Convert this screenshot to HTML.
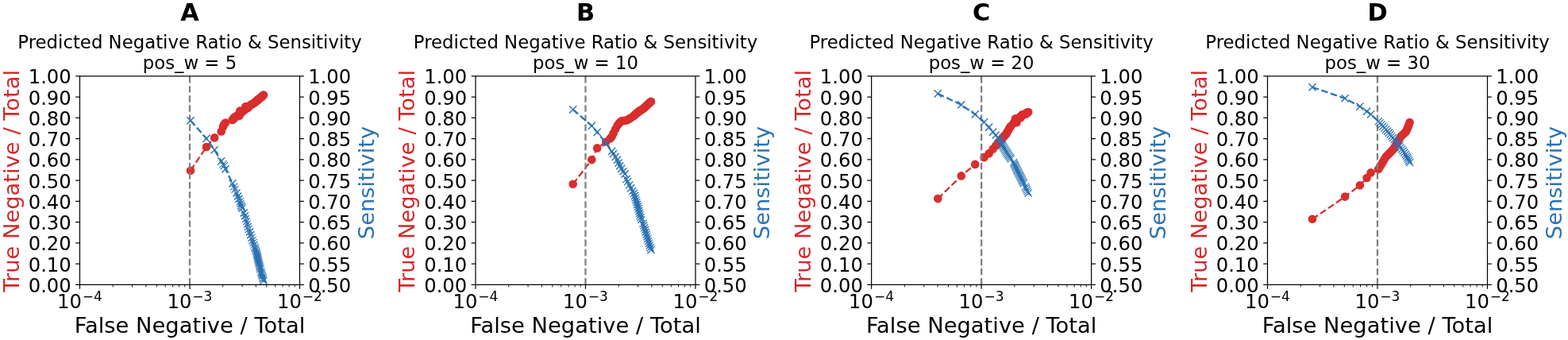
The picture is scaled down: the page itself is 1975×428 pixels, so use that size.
<!DOCTYPE html>
<html><head><meta charset="utf-8"><style>
html,body{margin:0;padding:0;background:#fff;}
svg{display:block;}
text{font-family:"DejaVu Sans","Liberation Sans",sans-serif;}
</style></head><body>
<svg width="1975" height="428" viewBox="0 0 1975 428">
<rect width="1975" height="428" fill="#fff"/>
<text x="239.00" y="25.5" font-size="30.4" font-weight="bold" text-anchor="middle">A</text>
<text x="239.00" y="61.0" font-size="22.8" text-anchor="middle">Predicted Negative Ratio &amp; Sensitivity</text>
<text x="239.00" y="86.6" font-size="22.8" text-anchor="middle">pos_w = 5</text>
<text x="239.00" y="419.4" font-size="27.35" text-anchor="middle">False Negative / Total</text>
<text transform="translate(23.90,227.82) rotate(-90)" font-size="27.35" text-anchor="middle" fill="#d62728">True Negative / Total</text>
<text transform="translate(470.90,230.03) rotate(-90)" font-size="27.35" text-anchor="middle" fill="#2a72b4">Sensitivity</text>
<line x1="95.18" y1="358.40" x2="100.50" y2="358.40" stroke="#000" stroke-width="1.22"/>
<text x="89.80" y="367.90" font-size="24.3" text-anchor="end">0.00</text>
<line x1="95.18" y1="332.14" x2="100.50" y2="332.14" stroke="#000" stroke-width="1.22"/>
<text x="89.80" y="341.64" font-size="24.3" text-anchor="end">0.10</text>
<line x1="95.18" y1="305.89" x2="100.50" y2="305.89" stroke="#000" stroke-width="1.22"/>
<text x="89.80" y="315.39" font-size="24.3" text-anchor="end">0.20</text>
<line x1="95.18" y1="279.63" x2="100.50" y2="279.63" stroke="#000" stroke-width="1.22"/>
<text x="89.80" y="289.13" font-size="24.3" text-anchor="end">0.30</text>
<line x1="95.18" y1="253.38" x2="100.50" y2="253.38" stroke="#000" stroke-width="1.22"/>
<text x="89.80" y="262.88" font-size="24.3" text-anchor="end">0.40</text>
<line x1="95.18" y1="227.12" x2="100.50" y2="227.12" stroke="#000" stroke-width="1.22"/>
<text x="89.80" y="236.62" font-size="24.3" text-anchor="end">0.50</text>
<line x1="95.18" y1="200.87" x2="100.50" y2="200.87" stroke="#000" stroke-width="1.22"/>
<text x="89.80" y="210.37" font-size="24.3" text-anchor="end">0.60</text>
<line x1="95.18" y1="174.61" x2="100.50" y2="174.61" stroke="#000" stroke-width="1.22"/>
<text x="89.80" y="184.11" font-size="24.3" text-anchor="end">0.70</text>
<line x1="95.18" y1="148.36" x2="100.50" y2="148.36" stroke="#000" stroke-width="1.22"/>
<text x="89.80" y="157.86" font-size="24.3" text-anchor="end">0.80</text>
<line x1="95.18" y1="122.11" x2="100.50" y2="122.11" stroke="#000" stroke-width="1.22"/>
<text x="89.80" y="131.61" font-size="24.3" text-anchor="end">0.90</text>
<line x1="95.18" y1="95.85" x2="100.50" y2="95.85" stroke="#000" stroke-width="1.22"/>
<text x="89.80" y="105.35" font-size="24.3" text-anchor="end">1.00</text>
<line x1="377.50" y1="358.40" x2="382.82" y2="358.40" stroke="#000" stroke-width="1.22"/>
<text x="388.20" y="367.90" font-size="24.3">0.50</text>
<line x1="377.50" y1="332.14" x2="382.82" y2="332.14" stroke="#000" stroke-width="1.22"/>
<text x="388.20" y="341.64" font-size="24.3">0.55</text>
<line x1="377.50" y1="305.89" x2="382.82" y2="305.89" stroke="#000" stroke-width="1.22"/>
<text x="388.20" y="315.39" font-size="24.3">0.60</text>
<line x1="377.50" y1="279.63" x2="382.82" y2="279.63" stroke="#000" stroke-width="1.22"/>
<text x="388.20" y="289.13" font-size="24.3">0.65</text>
<line x1="377.50" y1="253.38" x2="382.82" y2="253.38" stroke="#000" stroke-width="1.22"/>
<text x="388.20" y="262.88" font-size="24.3">0.70</text>
<line x1="377.50" y1="227.12" x2="382.82" y2="227.12" stroke="#000" stroke-width="1.22"/>
<text x="388.20" y="236.62" font-size="24.3">0.75</text>
<line x1="377.50" y1="200.87" x2="382.82" y2="200.87" stroke="#000" stroke-width="1.22"/>
<text x="388.20" y="210.37" font-size="24.3">0.80</text>
<line x1="377.50" y1="174.61" x2="382.82" y2="174.61" stroke="#000" stroke-width="1.22"/>
<text x="388.20" y="184.11" font-size="24.3">0.85</text>
<line x1="377.50" y1="148.36" x2="382.82" y2="148.36" stroke="#000" stroke-width="1.22"/>
<text x="388.20" y="157.86" font-size="24.3">0.90</text>
<line x1="377.50" y1="122.11" x2="382.82" y2="122.11" stroke="#000" stroke-width="1.22"/>
<text x="388.20" y="131.61" font-size="24.3">0.95</text>
<line x1="377.50" y1="95.85" x2="382.82" y2="95.85" stroke="#000" stroke-width="1.22"/>
<text x="388.20" y="105.35" font-size="24.3">1.00</text>
<line x1="142.19" y1="358.40" x2="142.19" y2="361.44" stroke="#000" stroke-width="0.91"/>
<line x1="166.58" y1="358.40" x2="166.58" y2="361.44" stroke="#000" stroke-width="0.91"/>
<line x1="183.89" y1="358.40" x2="183.89" y2="361.44" stroke="#000" stroke-width="0.91"/>
<line x1="197.31" y1="358.40" x2="197.31" y2="361.44" stroke="#000" stroke-width="0.91"/>
<line x1="208.27" y1="358.40" x2="208.27" y2="361.44" stroke="#000" stroke-width="0.91"/>
<line x1="217.55" y1="358.40" x2="217.55" y2="361.44" stroke="#000" stroke-width="0.91"/>
<line x1="225.58" y1="358.40" x2="225.58" y2="361.44" stroke="#000" stroke-width="0.91"/>
<line x1="232.66" y1="358.40" x2="232.66" y2="361.44" stroke="#000" stroke-width="0.91"/>
<line x1="280.69" y1="358.40" x2="280.69" y2="361.44" stroke="#000" stroke-width="0.91"/>
<line x1="305.08" y1="358.40" x2="305.08" y2="361.44" stroke="#000" stroke-width="0.91"/>
<line x1="322.39" y1="358.40" x2="322.39" y2="361.44" stroke="#000" stroke-width="0.91"/>
<line x1="335.81" y1="358.40" x2="335.81" y2="361.44" stroke="#000" stroke-width="0.91"/>
<line x1="346.77" y1="358.40" x2="346.77" y2="361.44" stroke="#000" stroke-width="0.91"/>
<line x1="356.05" y1="358.40" x2="356.05" y2="361.44" stroke="#000" stroke-width="0.91"/>
<line x1="364.08" y1="358.40" x2="364.08" y2="361.44" stroke="#000" stroke-width="0.91"/>
<line x1="371.16" y1="358.40" x2="371.16" y2="361.44" stroke="#000" stroke-width="0.91"/>
<line x1="100.50" y1="358.40" x2="100.50" y2="363.72" stroke="#000" stroke-width="1.22"/>
<text x="71.95" y="387.9" font-size="24.3">10</text>
<text x="103.85" y="378.7" font-size="17.01">−4</text>
<line x1="239.00" y1="358.40" x2="239.00" y2="363.72" stroke="#000" stroke-width="1.22"/>
<text x="210.45" y="387.9" font-size="24.3">10</text>
<text x="242.35" y="378.7" font-size="17.01">−3</text>
<line x1="377.50" y1="358.40" x2="377.50" y2="363.72" stroke="#000" stroke-width="1.22"/>
<text x="348.95" y="387.9" font-size="24.3">10</text>
<text x="380.85" y="378.7" font-size="17.01">−2</text>
<polyline points="240.00,214.70 260.00,185.00 270.10,173.40 278.70,165.50 281.00,159.50 282.20,156.50 284.00,154.50 293.00,150.50 294.68,149.10 296.00,148.00 297.95,146.29 299.65,144.81 301.00,143.74 302.17,142.85 302.97,142.25 303.73,141.66 304.41,141.15 305.07,140.64 307.14,138.90 308.51,137.75 309.54,136.89 310.48,136.12 311.37,135.41 312.28,134.68 313.17,133.96 314.37,133.00 315.64,132.13 316.91,131.39 318.04,130.74 318.98,130.19 319.93,129.64 320.84,128.91 321.47,128.40 322.10,127.88 322.73,127.36 323.30,126.90 323.69,126.57 324.08,126.25 324.48,125.93 324.87,125.61 325.27,125.28 325.73,124.92 326.19,124.55 326.64,124.19 327.10,123.82 327.56,123.45 328.01,123.09 328.77,122.49 329.31,122.06 329.84,121.62 330.38,121.12 330.92,120.58 331.46,120.04 332.00,119.50" fill="none" stroke="#da2d2d" stroke-width="2.28" stroke-dasharray="8.44 3.65"/>
<circle cx="240.00" cy="214.70" r="4.56" fill="#da2d2d" stroke="#da2d2d" stroke-width="1.52"/>
<circle cx="260.00" cy="185.00" r="4.56" fill="#da2d2d" stroke="#da2d2d" stroke-width="1.52"/>
<circle cx="270.10" cy="173.40" r="4.56" fill="#da2d2d" stroke="#da2d2d" stroke-width="1.52"/>
<circle cx="278.70" cy="165.50" r="4.56" fill="#da2d2d" stroke="#da2d2d" stroke-width="1.52"/>
<circle cx="281.00" cy="159.50" r="4.56" fill="#da2d2d" stroke="#da2d2d" stroke-width="1.52"/>
<circle cx="282.20" cy="156.50" r="4.56" fill="#da2d2d" stroke="#da2d2d" stroke-width="1.52"/>
<circle cx="284.00" cy="154.50" r="4.56" fill="#da2d2d" stroke="#da2d2d" stroke-width="1.52"/>
<circle cx="293.00" cy="150.50" r="4.56" fill="#da2d2d" stroke="#da2d2d" stroke-width="1.52"/>
<circle cx="294.68" cy="149.10" r="4.56" fill="#da2d2d" stroke="#da2d2d" stroke-width="1.52"/>
<circle cx="296.00" cy="148.00" r="4.56" fill="#da2d2d" stroke="#da2d2d" stroke-width="1.52"/>
<circle cx="297.95" cy="146.29" r="4.56" fill="#da2d2d" stroke="#da2d2d" stroke-width="1.52"/>
<circle cx="299.65" cy="144.81" r="4.56" fill="#da2d2d" stroke="#da2d2d" stroke-width="1.52"/>
<circle cx="301.00" cy="143.74" r="4.56" fill="#da2d2d" stroke="#da2d2d" stroke-width="1.52"/>
<circle cx="302.17" cy="142.85" r="4.56" fill="#da2d2d" stroke="#da2d2d" stroke-width="1.52"/>
<circle cx="302.97" cy="142.25" r="4.56" fill="#da2d2d" stroke="#da2d2d" stroke-width="1.52"/>
<circle cx="303.73" cy="141.66" r="4.56" fill="#da2d2d" stroke="#da2d2d" stroke-width="1.52"/>
<circle cx="304.41" cy="141.15" r="4.56" fill="#da2d2d" stroke="#da2d2d" stroke-width="1.52"/>
<circle cx="305.07" cy="140.64" r="4.56" fill="#da2d2d" stroke="#da2d2d" stroke-width="1.52"/>
<circle cx="307.14" cy="138.90" r="4.56" fill="#da2d2d" stroke="#da2d2d" stroke-width="1.52"/>
<circle cx="308.51" cy="137.75" r="4.56" fill="#da2d2d" stroke="#da2d2d" stroke-width="1.52"/>
<circle cx="309.54" cy="136.89" r="4.56" fill="#da2d2d" stroke="#da2d2d" stroke-width="1.52"/>
<circle cx="310.48" cy="136.12" r="4.56" fill="#da2d2d" stroke="#da2d2d" stroke-width="1.52"/>
<circle cx="311.37" cy="135.41" r="4.56" fill="#da2d2d" stroke="#da2d2d" stroke-width="1.52"/>
<circle cx="312.28" cy="134.68" r="4.56" fill="#da2d2d" stroke="#da2d2d" stroke-width="1.52"/>
<circle cx="313.17" cy="133.96" r="4.56" fill="#da2d2d" stroke="#da2d2d" stroke-width="1.52"/>
<circle cx="314.37" cy="133.00" r="4.56" fill="#da2d2d" stroke="#da2d2d" stroke-width="1.52"/>
<circle cx="315.64" cy="132.13" r="4.56" fill="#da2d2d" stroke="#da2d2d" stroke-width="1.52"/>
<circle cx="316.91" cy="131.39" r="4.56" fill="#da2d2d" stroke="#da2d2d" stroke-width="1.52"/>
<circle cx="318.04" cy="130.74" r="4.56" fill="#da2d2d" stroke="#da2d2d" stroke-width="1.52"/>
<circle cx="318.98" cy="130.19" r="4.56" fill="#da2d2d" stroke="#da2d2d" stroke-width="1.52"/>
<circle cx="319.93" cy="129.64" r="4.56" fill="#da2d2d" stroke="#da2d2d" stroke-width="1.52"/>
<circle cx="320.84" cy="128.91" r="4.56" fill="#da2d2d" stroke="#da2d2d" stroke-width="1.52"/>
<circle cx="321.47" cy="128.40" r="4.56" fill="#da2d2d" stroke="#da2d2d" stroke-width="1.52"/>
<circle cx="322.10" cy="127.88" r="4.56" fill="#da2d2d" stroke="#da2d2d" stroke-width="1.52"/>
<circle cx="322.73" cy="127.36" r="4.56" fill="#da2d2d" stroke="#da2d2d" stroke-width="1.52"/>
<circle cx="323.30" cy="126.90" r="4.56" fill="#da2d2d" stroke="#da2d2d" stroke-width="1.52"/>
<circle cx="323.69" cy="126.57" r="4.56" fill="#da2d2d" stroke="#da2d2d" stroke-width="1.52"/>
<circle cx="324.08" cy="126.25" r="4.56" fill="#da2d2d" stroke="#da2d2d" stroke-width="1.52"/>
<circle cx="324.48" cy="125.93" r="4.56" fill="#da2d2d" stroke="#da2d2d" stroke-width="1.52"/>
<circle cx="324.87" cy="125.61" r="4.56" fill="#da2d2d" stroke="#da2d2d" stroke-width="1.52"/>
<circle cx="325.27" cy="125.28" r="4.56" fill="#da2d2d" stroke="#da2d2d" stroke-width="1.52"/>
<circle cx="325.73" cy="124.92" r="4.56" fill="#da2d2d" stroke="#da2d2d" stroke-width="1.52"/>
<circle cx="326.19" cy="124.55" r="4.56" fill="#da2d2d" stroke="#da2d2d" stroke-width="1.52"/>
<circle cx="326.64" cy="124.19" r="4.56" fill="#da2d2d" stroke="#da2d2d" stroke-width="1.52"/>
<circle cx="327.10" cy="123.82" r="4.56" fill="#da2d2d" stroke="#da2d2d" stroke-width="1.52"/>
<circle cx="327.56" cy="123.45" r="4.56" fill="#da2d2d" stroke="#da2d2d" stroke-width="1.52"/>
<circle cx="328.01" cy="123.09" r="4.56" fill="#da2d2d" stroke="#da2d2d" stroke-width="1.52"/>
<circle cx="328.77" cy="122.49" r="4.56" fill="#da2d2d" stroke="#da2d2d" stroke-width="1.52"/>
<circle cx="329.31" cy="122.06" r="4.56" fill="#da2d2d" stroke="#da2d2d" stroke-width="1.52"/>
<circle cx="329.84" cy="121.62" r="4.56" fill="#da2d2d" stroke="#da2d2d" stroke-width="1.52"/>
<circle cx="330.38" cy="121.12" r="4.56" fill="#da2d2d" stroke="#da2d2d" stroke-width="1.52"/>
<circle cx="330.92" cy="120.58" r="4.56" fill="#da2d2d" stroke="#da2d2d" stroke-width="1.52"/>
<circle cx="331.46" cy="120.04" r="4.56" fill="#da2d2d" stroke="#da2d2d" stroke-width="1.52"/>
<circle cx="332.00" cy="119.50" r="4.56" fill="#da2d2d" stroke="#da2d2d" stroke-width="1.52"/>
<circle cx="292.70" cy="150.90" r="4.56" fill="#da2d2d" stroke="#da2d2d" stroke-width="1.52"/>
<circle cx="295.10" cy="147.60" r="4.56" fill="#da2d2d" stroke="#da2d2d" stroke-width="1.52"/>
<circle cx="301.50" cy="145.70" r="4.56" fill="#da2d2d" stroke="#da2d2d" stroke-width="1.52"/>
<circle cx="302.30" cy="139.60" r="4.56" fill="#da2d2d" stroke="#da2d2d" stroke-width="1.52"/>
<circle cx="307.80" cy="138.60" r="4.56" fill="#da2d2d" stroke="#da2d2d" stroke-width="1.52"/>
<circle cx="309.40" cy="134.10" r="4.56" fill="#da2d2d" stroke="#da2d2d" stroke-width="1.52"/>
<circle cx="312.60" cy="135.80" r="4.56" fill="#da2d2d" stroke="#da2d2d" stroke-width="1.52"/>
<line x1="239.00" y1="358.40" x2="239.00" y2="95.85" stroke="#808080" stroke-width="2.28" stroke-dasharray="8.44 3.65"/>
<polyline points="240.00,151.70 260.00,174.40 270.10,188.70 278.70,202.90 281.00,206.60 282.20,208.80 284.00,212.90 293.00,230.90 294.68,235.10 296.00,238.40 297.95,243.00 299.65,247.00 301.00,250.50 302.17,254.00 302.97,256.40 303.73,258.70 304.41,260.60 305.07,262.40 307.14,268.00 308.51,271.80 309.54,275.50 310.48,278.90 311.37,282.10 312.28,285.40 313.17,288.50 314.37,292.00 315.64,295.70 316.91,299.40 318.04,302.70 318.98,305.50 319.93,308.30 320.84,311.00 321.47,312.87 322.10,314.73 322.73,316.60 323.30,318.47 323.69,320.33 324.08,322.20 324.48,324.07 324.87,325.93 325.27,327.80 325.73,329.67 326.19,331.53 326.64,333.40 327.10,335.27 327.56,337.13 328.01,339.00 328.77,342.00 329.31,343.93 329.84,345.87 330.38,347.80 330.92,349.73 331.46,351.67 332.00,353.60" fill="none" stroke="#2a72b4" stroke-width="2.28" stroke-dasharray="8.44 3.65"/>
<path d="M235.44 147.14l9.12 9.12M235.44 156.26l9.12 -9.12M255.44 169.84l9.12 9.12M255.44 178.96l9.12 -9.12M265.54 184.14l9.12 9.12M265.54 193.26l9.12 -9.12M274.14 198.34l9.12 9.12M274.14 207.46l9.12 -9.12M279.44 208.34l9.12 9.12M279.44 217.46l9.12 -9.12M288.44 226.34l9.12 9.12M288.44 235.46l9.12 -9.12M293.39 238.44l9.12 9.12M293.39 247.56l9.12 -9.12M295.09 242.44l9.12 9.12M295.09 251.56l9.12 -9.12M296.44 245.94l9.12 9.12M296.44 255.06l9.12 -9.12M302.58 263.44l9.12 9.12M302.58 272.56l9.12 -9.12M303.95 267.24l9.12 9.12M303.95 276.36l9.12 -9.12M309.81 287.44l9.12 9.12M309.81 296.56l9.12 -9.12M311.08 291.14l9.12 9.12M311.08 300.26l9.12 -9.12" stroke="#2a72b4" stroke-width="1.45" fill="none"/>
<path d="M276.44 202.04l9.12 9.12M276.44 211.16l9.12 -9.12M277.64 204.24l9.12 9.12M277.64 213.36l9.12 -9.12M290.12 230.54l9.12 9.12M290.12 239.66l9.12 -9.12M291.44 233.84l9.12 9.12M291.44 242.96l9.12 -9.12M297.61 249.44l9.12 9.12M297.61 258.56l9.12 -9.12M298.41 251.84l9.12 9.12M298.41 260.96l9.12 -9.12M299.17 254.14l9.12 9.12M299.17 263.26l9.12 -9.12M299.85 256.04l9.12 9.12M299.85 265.16l9.12 -9.12M300.51 257.84l9.12 9.12M300.51 266.96l9.12 -9.12M304.98 270.94l9.12 9.12M304.98 280.06l9.12 -9.12M305.92 274.34l9.12 9.12M305.92 283.46l9.12 -9.12M306.81 277.54l9.12 9.12M306.81 286.66l9.12 -9.12M307.72 280.84l9.12 9.12M307.72 289.96l9.12 -9.12M308.61 283.94l9.12 9.12M308.61 293.06l9.12 -9.12M312.35 294.84l9.12 9.12M312.35 303.96l9.12 -9.12M313.48 298.14l9.12 9.12M313.48 307.26l9.12 -9.12M314.42 300.94l9.12 9.12M314.42 310.06l9.12 -9.12M315.37 303.74l9.12 9.12M315.37 312.86l9.12 -9.12M316.28 306.44l9.12 9.12M316.28 315.56l9.12 -9.12M316.91 308.31l9.12 9.12M316.91 317.43l9.12 -9.12M317.54 310.17l9.12 9.12M317.54 319.29l9.12 -9.12M318.17 312.04l9.12 9.12M318.17 321.16l9.12 -9.12M318.74 313.91l9.12 9.12M318.74 323.03l9.12 -9.12M319.13 315.77l9.12 9.12M319.13 324.89l9.12 -9.12M319.52 317.64l9.12 9.12M319.52 326.76l9.12 -9.12M319.92 319.51l9.12 9.12M319.92 328.63l9.12 -9.12M320.31 321.37l9.12 9.12M320.31 330.49l9.12 -9.12M320.71 323.24l9.12 9.12M320.71 332.36l9.12 -9.12M321.17 325.11l9.12 9.12M321.17 334.23l9.12 -9.12M321.63 326.97l9.12 9.12M321.63 336.09l9.12 -9.12M322.08 328.84l9.12 9.12M322.08 337.96l9.12 -9.12M322.54 330.71l9.12 9.12M322.54 339.83l9.12 -9.12M323.00 332.57l9.12 9.12M323.00 341.69l9.12 -9.12M323.45 334.44l9.12 9.12M323.45 343.56l9.12 -9.12M324.21 337.44l9.12 9.12M324.21 346.56l9.12 -9.12M324.75 339.37l9.12 9.12M324.75 348.49l9.12 -9.12M325.28 341.31l9.12 9.12M325.28 350.43l9.12 -9.12M325.82 343.24l9.12 9.12M325.82 352.36l9.12 -9.12M326.36 345.17l9.12 9.12M326.36 354.29l9.12 -9.12M326.90 347.11l9.12 9.12M326.90 356.23l9.12 -9.12M327.44 349.04l9.12 9.12M327.44 358.16l9.12 -9.12" stroke="#2a72b4" stroke-width="1.10" fill="none"/>
<rect x="100.50" y="95.85" width="277.00" height="262.55" fill="none" stroke="#000" stroke-width="1.22"/>
<text x="737.50" y="25.5" font-size="30.4" font-weight="bold" text-anchor="middle">B</text>
<text x="737.50" y="61.0" font-size="22.8" text-anchor="middle">Predicted Negative Ratio &amp; Sensitivity</text>
<text x="737.50" y="86.6" font-size="22.8" text-anchor="middle">pos_w = 10</text>
<text x="737.50" y="419.4" font-size="27.35" text-anchor="middle">False Negative / Total</text>
<text transform="translate(522.40,227.82) rotate(-90)" font-size="27.35" text-anchor="middle" fill="#d62728">True Negative / Total</text>
<text transform="translate(969.40,230.03) rotate(-90)" font-size="27.35" text-anchor="middle" fill="#2a72b4">Sensitivity</text>
<line x1="593.68" y1="358.40" x2="599.00" y2="358.40" stroke="#000" stroke-width="1.22"/>
<text x="588.30" y="367.90" font-size="24.3" text-anchor="end">0.00</text>
<line x1="593.68" y1="332.14" x2="599.00" y2="332.14" stroke="#000" stroke-width="1.22"/>
<text x="588.30" y="341.64" font-size="24.3" text-anchor="end">0.10</text>
<line x1="593.68" y1="305.89" x2="599.00" y2="305.89" stroke="#000" stroke-width="1.22"/>
<text x="588.30" y="315.39" font-size="24.3" text-anchor="end">0.20</text>
<line x1="593.68" y1="279.63" x2="599.00" y2="279.63" stroke="#000" stroke-width="1.22"/>
<text x="588.30" y="289.13" font-size="24.3" text-anchor="end">0.30</text>
<line x1="593.68" y1="253.38" x2="599.00" y2="253.38" stroke="#000" stroke-width="1.22"/>
<text x="588.30" y="262.88" font-size="24.3" text-anchor="end">0.40</text>
<line x1="593.68" y1="227.12" x2="599.00" y2="227.12" stroke="#000" stroke-width="1.22"/>
<text x="588.30" y="236.62" font-size="24.3" text-anchor="end">0.50</text>
<line x1="593.68" y1="200.87" x2="599.00" y2="200.87" stroke="#000" stroke-width="1.22"/>
<text x="588.30" y="210.37" font-size="24.3" text-anchor="end">0.60</text>
<line x1="593.68" y1="174.61" x2="599.00" y2="174.61" stroke="#000" stroke-width="1.22"/>
<text x="588.30" y="184.11" font-size="24.3" text-anchor="end">0.70</text>
<line x1="593.68" y1="148.36" x2="599.00" y2="148.36" stroke="#000" stroke-width="1.22"/>
<text x="588.30" y="157.86" font-size="24.3" text-anchor="end">0.80</text>
<line x1="593.68" y1="122.11" x2="599.00" y2="122.11" stroke="#000" stroke-width="1.22"/>
<text x="588.30" y="131.61" font-size="24.3" text-anchor="end">0.90</text>
<line x1="593.68" y1="95.85" x2="599.00" y2="95.85" stroke="#000" stroke-width="1.22"/>
<text x="588.30" y="105.35" font-size="24.3" text-anchor="end">1.00</text>
<line x1="876.00" y1="358.40" x2="881.32" y2="358.40" stroke="#000" stroke-width="1.22"/>
<text x="886.70" y="367.90" font-size="24.3">0.50</text>
<line x1="876.00" y1="332.14" x2="881.32" y2="332.14" stroke="#000" stroke-width="1.22"/>
<text x="886.70" y="341.64" font-size="24.3">0.55</text>
<line x1="876.00" y1="305.89" x2="881.32" y2="305.89" stroke="#000" stroke-width="1.22"/>
<text x="886.70" y="315.39" font-size="24.3">0.60</text>
<line x1="876.00" y1="279.63" x2="881.32" y2="279.63" stroke="#000" stroke-width="1.22"/>
<text x="886.70" y="289.13" font-size="24.3">0.65</text>
<line x1="876.00" y1="253.38" x2="881.32" y2="253.38" stroke="#000" stroke-width="1.22"/>
<text x="886.70" y="262.88" font-size="24.3">0.70</text>
<line x1="876.00" y1="227.12" x2="881.32" y2="227.12" stroke="#000" stroke-width="1.22"/>
<text x="886.70" y="236.62" font-size="24.3">0.75</text>
<line x1="876.00" y1="200.87" x2="881.32" y2="200.87" stroke="#000" stroke-width="1.22"/>
<text x="886.70" y="210.37" font-size="24.3">0.80</text>
<line x1="876.00" y1="174.61" x2="881.32" y2="174.61" stroke="#000" stroke-width="1.22"/>
<text x="886.70" y="184.11" font-size="24.3">0.85</text>
<line x1="876.00" y1="148.36" x2="881.32" y2="148.36" stroke="#000" stroke-width="1.22"/>
<text x="886.70" y="157.86" font-size="24.3">0.90</text>
<line x1="876.00" y1="122.11" x2="881.32" y2="122.11" stroke="#000" stroke-width="1.22"/>
<text x="886.70" y="131.61" font-size="24.3">0.95</text>
<line x1="876.00" y1="95.85" x2="881.32" y2="95.85" stroke="#000" stroke-width="1.22"/>
<text x="886.70" y="105.35" font-size="24.3">1.00</text>
<line x1="640.69" y1="358.40" x2="640.69" y2="361.44" stroke="#000" stroke-width="0.91"/>
<line x1="665.08" y1="358.40" x2="665.08" y2="361.44" stroke="#000" stroke-width="0.91"/>
<line x1="682.39" y1="358.40" x2="682.39" y2="361.44" stroke="#000" stroke-width="0.91"/>
<line x1="695.81" y1="358.40" x2="695.81" y2="361.44" stroke="#000" stroke-width="0.91"/>
<line x1="706.77" y1="358.40" x2="706.77" y2="361.44" stroke="#000" stroke-width="0.91"/>
<line x1="716.05" y1="358.40" x2="716.05" y2="361.44" stroke="#000" stroke-width="0.91"/>
<line x1="724.08" y1="358.40" x2="724.08" y2="361.44" stroke="#000" stroke-width="0.91"/>
<line x1="731.16" y1="358.40" x2="731.16" y2="361.44" stroke="#000" stroke-width="0.91"/>
<line x1="779.19" y1="358.40" x2="779.19" y2="361.44" stroke="#000" stroke-width="0.91"/>
<line x1="803.58" y1="358.40" x2="803.58" y2="361.44" stroke="#000" stroke-width="0.91"/>
<line x1="820.89" y1="358.40" x2="820.89" y2="361.44" stroke="#000" stroke-width="0.91"/>
<line x1="834.31" y1="358.40" x2="834.31" y2="361.44" stroke="#000" stroke-width="0.91"/>
<line x1="845.27" y1="358.40" x2="845.27" y2="361.44" stroke="#000" stroke-width="0.91"/>
<line x1="854.55" y1="358.40" x2="854.55" y2="361.44" stroke="#000" stroke-width="0.91"/>
<line x1="862.58" y1="358.40" x2="862.58" y2="361.44" stroke="#000" stroke-width="0.91"/>
<line x1="869.66" y1="358.40" x2="869.66" y2="361.44" stroke="#000" stroke-width="0.91"/>
<line x1="599.00" y1="358.40" x2="599.00" y2="363.72" stroke="#000" stroke-width="1.22"/>
<text x="570.45" y="387.9" font-size="24.3">10</text>
<text x="602.35" y="378.7" font-size="17.01">−4</text>
<line x1="737.50" y1="358.40" x2="737.50" y2="363.72" stroke="#000" stroke-width="1.22"/>
<text x="708.95" y="387.9" font-size="24.3">10</text>
<text x="740.85" y="378.7" font-size="17.01">−3</text>
<line x1="876.00" y1="358.40" x2="876.00" y2="363.72" stroke="#000" stroke-width="1.22"/>
<text x="847.45" y="387.9" font-size="24.3">10</text>
<text x="879.35" y="378.7" font-size="17.01">−2</text>
<polyline points="721.70,231.80 745.30,201.10 752.20,186.40 763.30,178.50 770.60,172.00 772.61,167.74 775.20,162.56 777.60,158.05 779.19,155.90 780.75,154.09 782.75,152.41 784.93,152.11 787.10,151.82 789.00,151.55 790.60,150.77 792.70,149.49 794.60,148.33 796.76,147.01 798.40,145.77 799.38,144.88 800.22,144.12 801.06,143.36 801.89,142.60 802.65,141.91 803.39,141.24 804.13,140.56 804.87,140.09 805.60,139.64 806.34,139.19 807.07,138.73 807.80,138.28 810.00,136.93 810.83,136.38 811.66,135.58 812.49,134.79 813.31,133.99 814.14,133.20 814.97,132.40 815.81,131.61 816.65,130.85 817.48,130.09 818.32,129.32 819.16,128.56 820.00,127.80" fill="none" stroke="#da2d2d" stroke-width="2.28" stroke-dasharray="8.44 3.65"/>
<circle cx="721.70" cy="231.80" r="4.56" fill="#da2d2d" stroke="#da2d2d" stroke-width="1.52"/>
<circle cx="745.30" cy="201.10" r="4.56" fill="#da2d2d" stroke="#da2d2d" stroke-width="1.52"/>
<circle cx="752.20" cy="186.40" r="4.56" fill="#da2d2d" stroke="#da2d2d" stroke-width="1.52"/>
<circle cx="763.30" cy="178.50" r="4.56" fill="#da2d2d" stroke="#da2d2d" stroke-width="1.52"/>
<circle cx="770.60" cy="172.00" r="4.56" fill="#da2d2d" stroke="#da2d2d" stroke-width="1.52"/>
<circle cx="772.61" cy="167.74" r="4.56" fill="#da2d2d" stroke="#da2d2d" stroke-width="1.52"/>
<circle cx="775.20" cy="162.56" r="4.56" fill="#da2d2d" stroke="#da2d2d" stroke-width="1.52"/>
<circle cx="777.60" cy="158.05" r="4.56" fill="#da2d2d" stroke="#da2d2d" stroke-width="1.52"/>
<circle cx="779.19" cy="155.90" r="4.56" fill="#da2d2d" stroke="#da2d2d" stroke-width="1.52"/>
<circle cx="780.75" cy="154.09" r="4.56" fill="#da2d2d" stroke="#da2d2d" stroke-width="1.52"/>
<circle cx="782.75" cy="152.41" r="4.56" fill="#da2d2d" stroke="#da2d2d" stroke-width="1.52"/>
<circle cx="784.93" cy="152.11" r="4.56" fill="#da2d2d" stroke="#da2d2d" stroke-width="1.52"/>
<circle cx="787.10" cy="151.82" r="4.56" fill="#da2d2d" stroke="#da2d2d" stroke-width="1.52"/>
<circle cx="789.00" cy="151.55" r="4.56" fill="#da2d2d" stroke="#da2d2d" stroke-width="1.52"/>
<circle cx="790.60" cy="150.77" r="4.56" fill="#da2d2d" stroke="#da2d2d" stroke-width="1.52"/>
<circle cx="792.70" cy="149.49" r="4.56" fill="#da2d2d" stroke="#da2d2d" stroke-width="1.52"/>
<circle cx="794.60" cy="148.33" r="4.56" fill="#da2d2d" stroke="#da2d2d" stroke-width="1.52"/>
<circle cx="796.76" cy="147.01" r="4.56" fill="#da2d2d" stroke="#da2d2d" stroke-width="1.52"/>
<circle cx="798.40" cy="145.77" r="4.56" fill="#da2d2d" stroke="#da2d2d" stroke-width="1.52"/>
<circle cx="799.38" cy="144.88" r="4.56" fill="#da2d2d" stroke="#da2d2d" stroke-width="1.52"/>
<circle cx="800.22" cy="144.12" r="4.56" fill="#da2d2d" stroke="#da2d2d" stroke-width="1.52"/>
<circle cx="801.06" cy="143.36" r="4.56" fill="#da2d2d" stroke="#da2d2d" stroke-width="1.52"/>
<circle cx="801.89" cy="142.60" r="4.56" fill="#da2d2d" stroke="#da2d2d" stroke-width="1.52"/>
<circle cx="802.65" cy="141.91" r="4.56" fill="#da2d2d" stroke="#da2d2d" stroke-width="1.52"/>
<circle cx="803.39" cy="141.24" r="4.56" fill="#da2d2d" stroke="#da2d2d" stroke-width="1.52"/>
<circle cx="804.13" cy="140.56" r="4.56" fill="#da2d2d" stroke="#da2d2d" stroke-width="1.52"/>
<circle cx="804.87" cy="140.09" r="4.56" fill="#da2d2d" stroke="#da2d2d" stroke-width="1.52"/>
<circle cx="805.60" cy="139.64" r="4.56" fill="#da2d2d" stroke="#da2d2d" stroke-width="1.52"/>
<circle cx="806.34" cy="139.19" r="4.56" fill="#da2d2d" stroke="#da2d2d" stroke-width="1.52"/>
<circle cx="807.07" cy="138.73" r="4.56" fill="#da2d2d" stroke="#da2d2d" stroke-width="1.52"/>
<circle cx="807.80" cy="138.28" r="4.56" fill="#da2d2d" stroke="#da2d2d" stroke-width="1.52"/>
<circle cx="810.00" cy="136.93" r="4.56" fill="#da2d2d" stroke="#da2d2d" stroke-width="1.52"/>
<circle cx="810.83" cy="136.38" r="4.56" fill="#da2d2d" stroke="#da2d2d" stroke-width="1.52"/>
<circle cx="811.66" cy="135.58" r="4.56" fill="#da2d2d" stroke="#da2d2d" stroke-width="1.52"/>
<circle cx="812.49" cy="134.79" r="4.56" fill="#da2d2d" stroke="#da2d2d" stroke-width="1.52"/>
<circle cx="813.31" cy="133.99" r="4.56" fill="#da2d2d" stroke="#da2d2d" stroke-width="1.52"/>
<circle cx="814.14" cy="133.20" r="4.56" fill="#da2d2d" stroke="#da2d2d" stroke-width="1.52"/>
<circle cx="814.97" cy="132.40" r="4.56" fill="#da2d2d" stroke="#da2d2d" stroke-width="1.52"/>
<circle cx="815.81" cy="131.61" r="4.56" fill="#da2d2d" stroke="#da2d2d" stroke-width="1.52"/>
<circle cx="816.65" cy="130.85" r="4.56" fill="#da2d2d" stroke="#da2d2d" stroke-width="1.52"/>
<circle cx="817.48" cy="130.09" r="4.56" fill="#da2d2d" stroke="#da2d2d" stroke-width="1.52"/>
<circle cx="818.32" cy="129.32" r="4.56" fill="#da2d2d" stroke="#da2d2d" stroke-width="1.52"/>
<circle cx="819.16" cy="128.56" r="4.56" fill="#da2d2d" stroke="#da2d2d" stroke-width="1.52"/>
<circle cx="820.00" cy="127.80" r="4.56" fill="#da2d2d" stroke="#da2d2d" stroke-width="1.52"/>
<circle cx="768.50" cy="174.50" r="4.56" fill="#da2d2d" stroke="#da2d2d" stroke-width="1.52"/>
<line x1="737.50" y1="358.40" x2="737.50" y2="95.85" stroke="#808080" stroke-width="2.28" stroke-dasharray="8.44 3.65"/>
<polyline points="721.70,137.90 745.30,158.40 752.20,166.40 763.30,180.30 770.60,190.40 772.61,193.50 775.20,197.50 777.60,201.20 779.19,205.00 780.75,208.70 782.75,212.40 784.93,215.70 787.10,219.00 789.00,225.60 790.60,228.80 792.70,233.00 794.60,236.80 796.76,240.50 798.40,243.30 799.38,246.50 800.22,249.22 801.06,251.94 801.89,254.65 802.65,257.37 803.39,260.09 804.13,262.81 804.87,265.53 805.60,268.25 806.34,270.96 807.07,273.68 807.80,276.40 810.00,281.30 810.83,284.07 811.66,286.83 812.49,289.60 813.31,292.37 814.14,295.13 814.97,297.90 815.81,300.67 816.65,303.43 817.48,306.20 818.32,308.97 819.16,311.73 820.00,314.50" fill="none" stroke="#2a72b4" stroke-width="2.28" stroke-dasharray="8.44 3.65"/>
<path d="M717.14 133.34l9.12 9.12M717.14 142.46l9.12 -9.12M740.74 153.84l9.12 9.12M740.74 162.96l9.12 -9.12M747.64 161.84l9.12 9.12M747.64 170.96l9.12 -9.12M758.74 175.74l9.12 9.12M758.74 184.86l9.12 -9.12M766.04 185.84l9.12 9.12M766.04 194.96l9.12 -9.12M768.05 188.94l9.12 9.12M768.05 198.06l9.12 -9.12M770.64 192.94l9.12 9.12M770.64 202.06l9.12 -9.12M773.04 196.64l9.12 9.12M773.04 205.76l9.12 -9.12M774.63 200.44l9.12 9.12M774.63 209.56l9.12 -9.12M776.19 204.14l9.12 9.12M776.19 213.26l9.12 -9.12M778.19 207.84l9.12 9.12M778.19 216.96l9.12 -9.12M780.37 211.14l9.12 9.12M780.37 220.26l9.12 -9.12M782.54 214.44l9.12 9.12M782.54 223.56l9.12 -9.12M788.14 228.44l9.12 9.12M788.14 237.56l9.12 -9.12M790.04 232.24l9.12 9.12M790.04 241.36l9.12 -9.12" stroke="#2a72b4" stroke-width="1.45" fill="none"/>
<path d="M784.44 221.04l9.12 9.12M784.44 230.16l9.12 -9.12M786.04 224.24l9.12 9.12M786.04 233.36l9.12 -9.12M792.20 235.94l9.12 9.12M792.20 245.06l9.12 -9.12M793.84 238.74l9.12 9.12M793.84 247.86l9.12 -9.12M794.82 241.94l9.12 9.12M794.82 251.06l9.12 -9.12M795.66 244.66l9.12 9.12M795.66 253.78l9.12 -9.12M796.50 247.38l9.12 9.12M796.50 256.50l9.12 -9.12M797.33 250.09l9.12 9.12M797.33 259.21l9.12 -9.12M798.09 252.81l9.12 9.12M798.09 261.93l9.12 -9.12M798.83 255.53l9.12 9.12M798.83 264.65l9.12 -9.12M799.57 258.25l9.12 9.12M799.57 267.37l9.12 -9.12M800.31 260.97l9.12 9.12M800.31 270.09l9.12 -9.12M801.04 263.69l9.12 9.12M801.04 272.81l9.12 -9.12M801.78 266.40l9.12 9.12M801.78 275.52l9.12 -9.12M802.51 269.12l9.12 9.12M802.51 278.24l9.12 -9.12M803.24 271.84l9.12 9.12M803.24 280.96l9.12 -9.12M805.44 276.74l9.12 9.12M805.44 285.86l9.12 -9.12M806.27 279.51l9.12 9.12M806.27 288.63l9.12 -9.12M807.10 282.27l9.12 9.12M807.10 291.39l9.12 -9.12M807.93 285.04l9.12 9.12M807.93 294.16l9.12 -9.12M808.75 287.81l9.12 9.12M808.75 296.93l9.12 -9.12M809.58 290.57l9.12 9.12M809.58 299.69l9.12 -9.12M810.41 293.34l9.12 9.12M810.41 302.46l9.12 -9.12M811.25 296.11l9.12 9.12M811.25 305.23l9.12 -9.12M812.09 298.87l9.12 9.12M812.09 307.99l9.12 -9.12M812.92 301.64l9.12 9.12M812.92 310.76l9.12 -9.12M813.76 304.41l9.12 9.12M813.76 313.53l9.12 -9.12M814.60 307.17l9.12 9.12M814.60 316.29l9.12 -9.12M815.44 309.94l9.12 9.12M815.44 319.06l9.12 -9.12" stroke="#2a72b4" stroke-width="1.30" fill="none"/>
<rect x="599.00" y="95.85" width="277.00" height="262.55" fill="none" stroke="#000" stroke-width="1.22"/>
<text x="1236.15" y="25.5" font-size="30.4" font-weight="bold" text-anchor="middle">C</text>
<text x="1236.15" y="61.0" font-size="22.8" text-anchor="middle">Predicted Negative Ratio &amp; Sensitivity</text>
<text x="1236.15" y="86.6" font-size="22.8" text-anchor="middle">pos_w = 20</text>
<text x="1236.15" y="419.4" font-size="27.35" text-anchor="middle">False Negative / Total</text>
<text transform="translate(1021.05,227.82) rotate(-90)" font-size="27.35" text-anchor="middle" fill="#d62728">True Negative / Total</text>
<text transform="translate(1468.05,230.03) rotate(-90)" font-size="27.35" text-anchor="middle" fill="#2a72b4">Sensitivity</text>
<line x1="1092.33" y1="358.40" x2="1097.65" y2="358.40" stroke="#000" stroke-width="1.22"/>
<text x="1086.95" y="367.90" font-size="24.3" text-anchor="end">0.00</text>
<line x1="1092.33" y1="332.14" x2="1097.65" y2="332.14" stroke="#000" stroke-width="1.22"/>
<text x="1086.95" y="341.64" font-size="24.3" text-anchor="end">0.10</text>
<line x1="1092.33" y1="305.89" x2="1097.65" y2="305.89" stroke="#000" stroke-width="1.22"/>
<text x="1086.95" y="315.39" font-size="24.3" text-anchor="end">0.20</text>
<line x1="1092.33" y1="279.63" x2="1097.65" y2="279.63" stroke="#000" stroke-width="1.22"/>
<text x="1086.95" y="289.13" font-size="24.3" text-anchor="end">0.30</text>
<line x1="1092.33" y1="253.38" x2="1097.65" y2="253.38" stroke="#000" stroke-width="1.22"/>
<text x="1086.95" y="262.88" font-size="24.3" text-anchor="end">0.40</text>
<line x1="1092.33" y1="227.12" x2="1097.65" y2="227.12" stroke="#000" stroke-width="1.22"/>
<text x="1086.95" y="236.62" font-size="24.3" text-anchor="end">0.50</text>
<line x1="1092.33" y1="200.87" x2="1097.65" y2="200.87" stroke="#000" stroke-width="1.22"/>
<text x="1086.95" y="210.37" font-size="24.3" text-anchor="end">0.60</text>
<line x1="1092.33" y1="174.61" x2="1097.65" y2="174.61" stroke="#000" stroke-width="1.22"/>
<text x="1086.95" y="184.11" font-size="24.3" text-anchor="end">0.70</text>
<line x1="1092.33" y1="148.36" x2="1097.65" y2="148.36" stroke="#000" stroke-width="1.22"/>
<text x="1086.95" y="157.86" font-size="24.3" text-anchor="end">0.80</text>
<line x1="1092.33" y1="122.11" x2="1097.65" y2="122.11" stroke="#000" stroke-width="1.22"/>
<text x="1086.95" y="131.61" font-size="24.3" text-anchor="end">0.90</text>
<line x1="1092.33" y1="95.85" x2="1097.65" y2="95.85" stroke="#000" stroke-width="1.22"/>
<text x="1086.95" y="105.35" font-size="24.3" text-anchor="end">1.00</text>
<line x1="1374.65" y1="358.40" x2="1379.97" y2="358.40" stroke="#000" stroke-width="1.22"/>
<text x="1385.35" y="367.90" font-size="24.3">0.50</text>
<line x1="1374.65" y1="332.14" x2="1379.97" y2="332.14" stroke="#000" stroke-width="1.22"/>
<text x="1385.35" y="341.64" font-size="24.3">0.55</text>
<line x1="1374.65" y1="305.89" x2="1379.97" y2="305.89" stroke="#000" stroke-width="1.22"/>
<text x="1385.35" y="315.39" font-size="24.3">0.60</text>
<line x1="1374.65" y1="279.63" x2="1379.97" y2="279.63" stroke="#000" stroke-width="1.22"/>
<text x="1385.35" y="289.13" font-size="24.3">0.65</text>
<line x1="1374.65" y1="253.38" x2="1379.97" y2="253.38" stroke="#000" stroke-width="1.22"/>
<text x="1385.35" y="262.88" font-size="24.3">0.70</text>
<line x1="1374.65" y1="227.12" x2="1379.97" y2="227.12" stroke="#000" stroke-width="1.22"/>
<text x="1385.35" y="236.62" font-size="24.3">0.75</text>
<line x1="1374.65" y1="200.87" x2="1379.97" y2="200.87" stroke="#000" stroke-width="1.22"/>
<text x="1385.35" y="210.37" font-size="24.3">0.80</text>
<line x1="1374.65" y1="174.61" x2="1379.97" y2="174.61" stroke="#000" stroke-width="1.22"/>
<text x="1385.35" y="184.11" font-size="24.3">0.85</text>
<line x1="1374.65" y1="148.36" x2="1379.97" y2="148.36" stroke="#000" stroke-width="1.22"/>
<text x="1385.35" y="157.86" font-size="24.3">0.90</text>
<line x1="1374.65" y1="122.11" x2="1379.97" y2="122.11" stroke="#000" stroke-width="1.22"/>
<text x="1385.35" y="131.61" font-size="24.3">0.95</text>
<line x1="1374.65" y1="95.85" x2="1379.97" y2="95.85" stroke="#000" stroke-width="1.22"/>
<text x="1385.35" y="105.35" font-size="24.3">1.00</text>
<line x1="1139.34" y1="358.40" x2="1139.34" y2="361.44" stroke="#000" stroke-width="0.91"/>
<line x1="1163.73" y1="358.40" x2="1163.73" y2="361.44" stroke="#000" stroke-width="0.91"/>
<line x1="1181.04" y1="358.40" x2="1181.04" y2="361.44" stroke="#000" stroke-width="0.91"/>
<line x1="1194.46" y1="358.40" x2="1194.46" y2="361.44" stroke="#000" stroke-width="0.91"/>
<line x1="1205.42" y1="358.40" x2="1205.42" y2="361.44" stroke="#000" stroke-width="0.91"/>
<line x1="1214.70" y1="358.40" x2="1214.70" y2="361.44" stroke="#000" stroke-width="0.91"/>
<line x1="1222.73" y1="358.40" x2="1222.73" y2="361.44" stroke="#000" stroke-width="0.91"/>
<line x1="1229.81" y1="358.40" x2="1229.81" y2="361.44" stroke="#000" stroke-width="0.91"/>
<line x1="1277.84" y1="358.40" x2="1277.84" y2="361.44" stroke="#000" stroke-width="0.91"/>
<line x1="1302.23" y1="358.40" x2="1302.23" y2="361.44" stroke="#000" stroke-width="0.91"/>
<line x1="1319.54" y1="358.40" x2="1319.54" y2="361.44" stroke="#000" stroke-width="0.91"/>
<line x1="1332.96" y1="358.40" x2="1332.96" y2="361.44" stroke="#000" stroke-width="0.91"/>
<line x1="1343.92" y1="358.40" x2="1343.92" y2="361.44" stroke="#000" stroke-width="0.91"/>
<line x1="1353.20" y1="358.40" x2="1353.20" y2="361.44" stroke="#000" stroke-width="0.91"/>
<line x1="1361.23" y1="358.40" x2="1361.23" y2="361.44" stroke="#000" stroke-width="0.91"/>
<line x1="1368.31" y1="358.40" x2="1368.31" y2="361.44" stroke="#000" stroke-width="0.91"/>
<line x1="1097.65" y1="358.40" x2="1097.65" y2="363.72" stroke="#000" stroke-width="1.22"/>
<text x="1069.10" y="387.9" font-size="24.3">10</text>
<text x="1101.00" y="378.7" font-size="17.01">−4</text>
<line x1="1236.15" y1="358.40" x2="1236.15" y2="363.72" stroke="#000" stroke-width="1.22"/>
<text x="1207.60" y="387.9" font-size="24.3">10</text>
<text x="1239.50" y="378.7" font-size="17.01">−3</text>
<line x1="1374.65" y1="358.40" x2="1374.65" y2="363.72" stroke="#000" stroke-width="1.22"/>
<text x="1346.10" y="387.9" font-size="24.3">10</text>
<text x="1378.00" y="378.7" font-size="17.01">−2</text>
<polyline points="1181.30,250.10 1210.80,221.40 1228.20,206.90 1239.60,198.10 1245.70,193.16 1250.59,187.63 1254.17,183.58 1256.82,180.55 1258.36,178.79 1259.71,177.25 1261.64,175.04 1262.38,174.20 1263.12,173.35 1264.07,172.26 1265.06,171.13 1266.05,170.00 1267.03,168.88 1268.02,167.61 1269.01,165.86 1270.02,164.05 1271.12,162.09 1272.22,160.14 1273.32,158.83 1276.70,154.95 1277.45,154.08 1278.21,153.22 1278.96,152.35 1279.71,151.49 1280.46,150.88 1281.22,150.27 1282.05,149.60 1282.88,148.93 1283.70,148.25 1284.53,147.58 1285.36,146.91 1286.19,146.24 1287.02,145.57 1287.84,145.10 1288.67,144.65 1289.50,144.20 1291.46,143.13 1292.39,142.63 1293.33,142.12 1294.26,141.61 1295.20,141.10" fill="none" stroke="#da2d2d" stroke-width="2.28" stroke-dasharray="8.44 3.65"/>
<circle cx="1181.30" cy="250.10" r="4.56" fill="#da2d2d" stroke="#da2d2d" stroke-width="1.52"/>
<circle cx="1210.80" cy="221.40" r="4.56" fill="#da2d2d" stroke="#da2d2d" stroke-width="1.52"/>
<circle cx="1228.20" cy="206.90" r="4.56" fill="#da2d2d" stroke="#da2d2d" stroke-width="1.52"/>
<circle cx="1239.60" cy="198.10" r="4.56" fill="#da2d2d" stroke="#da2d2d" stroke-width="1.52"/>
<circle cx="1245.70" cy="193.16" r="4.56" fill="#da2d2d" stroke="#da2d2d" stroke-width="1.52"/>
<circle cx="1250.59" cy="187.63" r="4.56" fill="#da2d2d" stroke="#da2d2d" stroke-width="1.52"/>
<circle cx="1254.17" cy="183.58" r="4.56" fill="#da2d2d" stroke="#da2d2d" stroke-width="1.52"/>
<circle cx="1256.82" cy="180.55" r="4.56" fill="#da2d2d" stroke="#da2d2d" stroke-width="1.52"/>
<circle cx="1258.36" cy="178.79" r="4.56" fill="#da2d2d" stroke="#da2d2d" stroke-width="1.52"/>
<circle cx="1259.71" cy="177.25" r="4.56" fill="#da2d2d" stroke="#da2d2d" stroke-width="1.52"/>
<circle cx="1261.64" cy="175.04" r="4.56" fill="#da2d2d" stroke="#da2d2d" stroke-width="1.52"/>
<circle cx="1262.38" cy="174.20" r="4.56" fill="#da2d2d" stroke="#da2d2d" stroke-width="1.52"/>
<circle cx="1263.12" cy="173.35" r="4.56" fill="#da2d2d" stroke="#da2d2d" stroke-width="1.52"/>
<circle cx="1264.07" cy="172.26" r="4.56" fill="#da2d2d" stroke="#da2d2d" stroke-width="1.52"/>
<circle cx="1265.06" cy="171.13" r="4.56" fill="#da2d2d" stroke="#da2d2d" stroke-width="1.52"/>
<circle cx="1266.05" cy="170.00" r="4.56" fill="#da2d2d" stroke="#da2d2d" stroke-width="1.52"/>
<circle cx="1267.03" cy="168.88" r="4.56" fill="#da2d2d" stroke="#da2d2d" stroke-width="1.52"/>
<circle cx="1268.02" cy="167.61" r="4.56" fill="#da2d2d" stroke="#da2d2d" stroke-width="1.52"/>
<circle cx="1269.01" cy="165.86" r="4.56" fill="#da2d2d" stroke="#da2d2d" stroke-width="1.52"/>
<circle cx="1270.02" cy="164.05" r="4.56" fill="#da2d2d" stroke="#da2d2d" stroke-width="1.52"/>
<circle cx="1271.12" cy="162.09" r="4.56" fill="#da2d2d" stroke="#da2d2d" stroke-width="1.52"/>
<circle cx="1272.22" cy="160.14" r="4.56" fill="#da2d2d" stroke="#da2d2d" stroke-width="1.52"/>
<circle cx="1273.32" cy="158.83" r="4.56" fill="#da2d2d" stroke="#da2d2d" stroke-width="1.52"/>
<circle cx="1276.70" cy="154.95" r="4.56" fill="#da2d2d" stroke="#da2d2d" stroke-width="1.52"/>
<circle cx="1277.45" cy="154.08" r="4.56" fill="#da2d2d" stroke="#da2d2d" stroke-width="1.52"/>
<circle cx="1278.21" cy="153.22" r="4.56" fill="#da2d2d" stroke="#da2d2d" stroke-width="1.52"/>
<circle cx="1278.96" cy="152.35" r="4.56" fill="#da2d2d" stroke="#da2d2d" stroke-width="1.52"/>
<circle cx="1279.71" cy="151.49" r="4.56" fill="#da2d2d" stroke="#da2d2d" stroke-width="1.52"/>
<circle cx="1280.46" cy="150.88" r="4.56" fill="#da2d2d" stroke="#da2d2d" stroke-width="1.52"/>
<circle cx="1281.22" cy="150.27" r="4.56" fill="#da2d2d" stroke="#da2d2d" stroke-width="1.52"/>
<circle cx="1282.05" cy="149.60" r="4.56" fill="#da2d2d" stroke="#da2d2d" stroke-width="1.52"/>
<circle cx="1282.88" cy="148.93" r="4.56" fill="#da2d2d" stroke="#da2d2d" stroke-width="1.52"/>
<circle cx="1283.70" cy="148.25" r="4.56" fill="#da2d2d" stroke="#da2d2d" stroke-width="1.52"/>
<circle cx="1284.53" cy="147.58" r="4.56" fill="#da2d2d" stroke="#da2d2d" stroke-width="1.52"/>
<circle cx="1285.36" cy="146.91" r="4.56" fill="#da2d2d" stroke="#da2d2d" stroke-width="1.52"/>
<circle cx="1286.19" cy="146.24" r="4.56" fill="#da2d2d" stroke="#da2d2d" stroke-width="1.52"/>
<circle cx="1287.02" cy="145.57" r="4.56" fill="#da2d2d" stroke="#da2d2d" stroke-width="1.52"/>
<circle cx="1287.84" cy="145.10" r="4.56" fill="#da2d2d" stroke="#da2d2d" stroke-width="1.52"/>
<circle cx="1288.67" cy="144.65" r="4.56" fill="#da2d2d" stroke="#da2d2d" stroke-width="1.52"/>
<circle cx="1289.50" cy="144.20" r="4.56" fill="#da2d2d" stroke="#da2d2d" stroke-width="1.52"/>
<circle cx="1291.46" cy="143.13" r="4.56" fill="#da2d2d" stroke="#da2d2d" stroke-width="1.52"/>
<circle cx="1292.39" cy="142.63" r="4.56" fill="#da2d2d" stroke="#da2d2d" stroke-width="1.52"/>
<circle cx="1293.33" cy="142.12" r="4.56" fill="#da2d2d" stroke="#da2d2d" stroke-width="1.52"/>
<circle cx="1294.26" cy="141.61" r="4.56" fill="#da2d2d" stroke="#da2d2d" stroke-width="1.52"/>
<circle cx="1295.20" cy="141.10" r="4.56" fill="#da2d2d" stroke="#da2d2d" stroke-width="1.52"/>
<circle cx="1279.00" cy="149.20" r="4.56" fill="#da2d2d" stroke="#da2d2d" stroke-width="1.52"/>
<circle cx="1287.60" cy="144.30" r="4.56" fill="#da2d2d" stroke="#da2d2d" stroke-width="1.52"/>
<circle cx="1280.60" cy="154.30" r="4.56" fill="#da2d2d" stroke="#da2d2d" stroke-width="1.52"/>
<circle cx="1285.50" cy="148.30" r="4.56" fill="#da2d2d" stroke="#da2d2d" stroke-width="1.52"/>
<circle cx="1292.10" cy="143.80" r="4.56" fill="#da2d2d" stroke="#da2d2d" stroke-width="1.52"/>
<line x1="1236.15" y1="358.40" x2="1236.15" y2="95.85" stroke="#808080" stroke-width="2.28" stroke-dasharray="8.44 3.65"/>
<polyline points="1181.30,117.90 1210.80,131.90 1228.20,143.90 1239.60,153.80 1245.70,160.10 1250.59,166.20 1254.17,170.00 1256.82,173.20 1258.36,175.10 1259.71,177.00 1261.64,180.70 1262.38,182.31 1263.12,183.92 1264.07,185.52 1265.06,187.13 1266.05,188.74 1267.03,190.35 1268.02,191.96 1269.01,193.57 1270.02,195.18 1271.12,196.78 1272.22,198.39 1273.32,200.00 1276.70,204.50 1277.45,206.16 1278.21,207.81 1278.96,209.47 1279.71,211.13 1280.46,212.78 1281.22,214.44 1282.05,216.09 1282.88,217.75 1283.70,219.41 1284.53,221.06 1285.36,222.72 1286.19,224.38 1287.02,226.03 1287.84,227.69 1288.67,229.34 1289.50,231.00 1291.46,235.00 1292.39,237.05 1293.33,239.10 1294.26,241.15 1295.20,243.20" fill="none" stroke="#2a72b4" stroke-width="2.28" stroke-dasharray="8.44 3.65"/>
<path d="M1176.74 113.34l9.12 9.12M1176.74 122.46l9.12 -9.12M1206.24 127.34l9.12 9.12M1206.24 136.46l9.12 -9.12M1223.64 139.34l9.12 9.12M1223.64 148.46l9.12 -9.12M1235.04 149.24l9.12 9.12M1235.04 158.36l9.12 -9.12M1241.14 155.54l9.12 9.12M1241.14 164.66l9.12 -9.12M1246.03 161.64l9.12 9.12M1246.03 170.76l9.12 -9.12M1249.61 165.44l9.12 9.12M1249.61 174.56l9.12 -9.12" stroke="#2a72b4" stroke-width="1.45" fill="none"/>
<path d="M1252.26 168.64l9.12 9.12M1252.26 177.76l9.12 -9.12M1253.80 170.54l9.12 9.12M1253.80 179.66l9.12 -9.12M1255.15 172.44l9.12 9.12M1255.15 181.56l9.12 -9.12M1257.08 176.14l9.12 9.12M1257.08 185.26l9.12 -9.12M1257.82 177.75l9.12 9.12M1257.82 186.87l9.12 -9.12M1258.56 179.36l9.12 9.12M1258.56 188.48l9.12 -9.12M1259.51 180.96l9.12 9.12M1259.51 190.08l9.12 -9.12M1260.50 182.57l9.12 9.12M1260.50 191.69l9.12 -9.12M1261.49 184.18l9.12 9.12M1261.49 193.30l9.12 -9.12M1262.47 185.79l9.12 9.12M1262.47 194.91l9.12 -9.12M1263.46 187.40l9.12 9.12M1263.46 196.52l9.12 -9.12M1264.45 189.01l9.12 9.12M1264.45 198.13l9.12 -9.12M1265.46 190.62l9.12 9.12M1265.46 199.74l9.12 -9.12M1266.56 192.22l9.12 9.12M1266.56 201.34l9.12 -9.12M1267.66 193.83l9.12 9.12M1267.66 202.95l9.12 -9.12M1268.76 195.44l9.12 9.12M1268.76 204.56l9.12 -9.12M1272.14 199.94l9.12 9.12M1272.14 209.06l9.12 -9.12M1272.89 201.60l9.12 9.12M1272.89 210.72l9.12 -9.12M1273.65 203.25l9.12 9.12M1273.65 212.37l9.12 -9.12M1274.40 204.91l9.12 9.12M1274.40 214.03l9.12 -9.12M1275.15 206.57l9.12 9.12M1275.15 215.69l9.12 -9.12M1275.90 208.22l9.12 9.12M1275.90 217.34l9.12 -9.12M1276.66 209.88l9.12 9.12M1276.66 219.00l9.12 -9.12M1277.49 211.53l9.12 9.12M1277.49 220.65l9.12 -9.12M1278.32 213.19l9.12 9.12M1278.32 222.31l9.12 -9.12M1279.14 214.85l9.12 9.12M1279.14 223.97l9.12 -9.12M1279.97 216.50l9.12 9.12M1279.97 225.62l9.12 -9.12M1280.80 218.16l9.12 9.12M1280.80 227.28l9.12 -9.12M1281.63 219.82l9.12 9.12M1281.63 228.94l9.12 -9.12M1282.46 221.47l9.12 9.12M1282.46 230.59l9.12 -9.12M1283.28 223.13l9.12 9.12M1283.28 232.25l9.12 -9.12M1284.11 224.78l9.12 9.12M1284.11 233.90l9.12 -9.12M1284.94 226.44l9.12 9.12M1284.94 235.56l9.12 -9.12M1286.90 230.44l9.12 9.12M1286.90 239.56l9.12 -9.12M1287.83 232.49l9.12 9.12M1287.83 241.61l9.12 -9.12M1288.77 234.54l9.12 9.12M1288.77 243.66l9.12 -9.12M1289.70 236.59l9.12 9.12M1289.70 245.71l9.12 -9.12M1290.64 238.64l9.12 9.12M1290.64 247.76l9.12 -9.12" stroke="#2a72b4" stroke-width="1.10" fill="none"/>
<rect x="1097.65" y="95.85" width="277.00" height="262.55" fill="none" stroke="#000" stroke-width="1.22"/>
<text x="1735.00" y="25.5" font-size="30.4" font-weight="bold" text-anchor="middle">D</text>
<text x="1735.00" y="61.0" font-size="22.8" text-anchor="middle">Predicted Negative Ratio &amp; Sensitivity</text>
<text x="1735.00" y="86.6" font-size="22.8" text-anchor="middle">pos_w = 30</text>
<text x="1735.00" y="419.4" font-size="27.35" text-anchor="middle">False Negative / Total</text>
<text transform="translate(1519.90,227.82) rotate(-90)" font-size="27.35" text-anchor="middle" fill="#d62728">True Negative / Total</text>
<text transform="translate(1966.90,230.03) rotate(-90)" font-size="27.35" text-anchor="middle" fill="#2a72b4">Sensitivity</text>
<line x1="1591.18" y1="358.40" x2="1596.50" y2="358.40" stroke="#000" stroke-width="1.22"/>
<text x="1585.80" y="367.90" font-size="24.3" text-anchor="end">0.00</text>
<line x1="1591.18" y1="332.14" x2="1596.50" y2="332.14" stroke="#000" stroke-width="1.22"/>
<text x="1585.80" y="341.64" font-size="24.3" text-anchor="end">0.10</text>
<line x1="1591.18" y1="305.89" x2="1596.50" y2="305.89" stroke="#000" stroke-width="1.22"/>
<text x="1585.80" y="315.39" font-size="24.3" text-anchor="end">0.20</text>
<line x1="1591.18" y1="279.63" x2="1596.50" y2="279.63" stroke="#000" stroke-width="1.22"/>
<text x="1585.80" y="289.13" font-size="24.3" text-anchor="end">0.30</text>
<line x1="1591.18" y1="253.38" x2="1596.50" y2="253.38" stroke="#000" stroke-width="1.22"/>
<text x="1585.80" y="262.88" font-size="24.3" text-anchor="end">0.40</text>
<line x1="1591.18" y1="227.12" x2="1596.50" y2="227.12" stroke="#000" stroke-width="1.22"/>
<text x="1585.80" y="236.62" font-size="24.3" text-anchor="end">0.50</text>
<line x1="1591.18" y1="200.87" x2="1596.50" y2="200.87" stroke="#000" stroke-width="1.22"/>
<text x="1585.80" y="210.37" font-size="24.3" text-anchor="end">0.60</text>
<line x1="1591.18" y1="174.61" x2="1596.50" y2="174.61" stroke="#000" stroke-width="1.22"/>
<text x="1585.80" y="184.11" font-size="24.3" text-anchor="end">0.70</text>
<line x1="1591.18" y1="148.36" x2="1596.50" y2="148.36" stroke="#000" stroke-width="1.22"/>
<text x="1585.80" y="157.86" font-size="24.3" text-anchor="end">0.80</text>
<line x1="1591.18" y1="122.11" x2="1596.50" y2="122.11" stroke="#000" stroke-width="1.22"/>
<text x="1585.80" y="131.61" font-size="24.3" text-anchor="end">0.90</text>
<line x1="1591.18" y1="95.85" x2="1596.50" y2="95.85" stroke="#000" stroke-width="1.22"/>
<text x="1585.80" y="105.35" font-size="24.3" text-anchor="end">1.00</text>
<line x1="1873.50" y1="358.40" x2="1878.82" y2="358.40" stroke="#000" stroke-width="1.22"/>
<text x="1884.20" y="367.90" font-size="24.3">0.50</text>
<line x1="1873.50" y1="332.14" x2="1878.82" y2="332.14" stroke="#000" stroke-width="1.22"/>
<text x="1884.20" y="341.64" font-size="24.3">0.55</text>
<line x1="1873.50" y1="305.89" x2="1878.82" y2="305.89" stroke="#000" stroke-width="1.22"/>
<text x="1884.20" y="315.39" font-size="24.3">0.60</text>
<line x1="1873.50" y1="279.63" x2="1878.82" y2="279.63" stroke="#000" stroke-width="1.22"/>
<text x="1884.20" y="289.13" font-size="24.3">0.65</text>
<line x1="1873.50" y1="253.38" x2="1878.82" y2="253.38" stroke="#000" stroke-width="1.22"/>
<text x="1884.20" y="262.88" font-size="24.3">0.70</text>
<line x1="1873.50" y1="227.12" x2="1878.82" y2="227.12" stroke="#000" stroke-width="1.22"/>
<text x="1884.20" y="236.62" font-size="24.3">0.75</text>
<line x1="1873.50" y1="200.87" x2="1878.82" y2="200.87" stroke="#000" stroke-width="1.22"/>
<text x="1884.20" y="210.37" font-size="24.3">0.80</text>
<line x1="1873.50" y1="174.61" x2="1878.82" y2="174.61" stroke="#000" stroke-width="1.22"/>
<text x="1884.20" y="184.11" font-size="24.3">0.85</text>
<line x1="1873.50" y1="148.36" x2="1878.82" y2="148.36" stroke="#000" stroke-width="1.22"/>
<text x="1884.20" y="157.86" font-size="24.3">0.90</text>
<line x1="1873.50" y1="122.11" x2="1878.82" y2="122.11" stroke="#000" stroke-width="1.22"/>
<text x="1884.20" y="131.61" font-size="24.3">0.95</text>
<line x1="1873.50" y1="95.85" x2="1878.82" y2="95.85" stroke="#000" stroke-width="1.22"/>
<text x="1884.20" y="105.35" font-size="24.3">1.00</text>
<line x1="1638.19" y1="358.40" x2="1638.19" y2="361.44" stroke="#000" stroke-width="0.91"/>
<line x1="1662.58" y1="358.40" x2="1662.58" y2="361.44" stroke="#000" stroke-width="0.91"/>
<line x1="1679.89" y1="358.40" x2="1679.89" y2="361.44" stroke="#000" stroke-width="0.91"/>
<line x1="1693.31" y1="358.40" x2="1693.31" y2="361.44" stroke="#000" stroke-width="0.91"/>
<line x1="1704.27" y1="358.40" x2="1704.27" y2="361.44" stroke="#000" stroke-width="0.91"/>
<line x1="1713.55" y1="358.40" x2="1713.55" y2="361.44" stroke="#000" stroke-width="0.91"/>
<line x1="1721.58" y1="358.40" x2="1721.58" y2="361.44" stroke="#000" stroke-width="0.91"/>
<line x1="1728.66" y1="358.40" x2="1728.66" y2="361.44" stroke="#000" stroke-width="0.91"/>
<line x1="1776.69" y1="358.40" x2="1776.69" y2="361.44" stroke="#000" stroke-width="0.91"/>
<line x1="1801.08" y1="358.40" x2="1801.08" y2="361.44" stroke="#000" stroke-width="0.91"/>
<line x1="1818.39" y1="358.40" x2="1818.39" y2="361.44" stroke="#000" stroke-width="0.91"/>
<line x1="1831.81" y1="358.40" x2="1831.81" y2="361.44" stroke="#000" stroke-width="0.91"/>
<line x1="1842.77" y1="358.40" x2="1842.77" y2="361.44" stroke="#000" stroke-width="0.91"/>
<line x1="1852.05" y1="358.40" x2="1852.05" y2="361.44" stroke="#000" stroke-width="0.91"/>
<line x1="1860.08" y1="358.40" x2="1860.08" y2="361.44" stroke="#000" stroke-width="0.91"/>
<line x1="1867.16" y1="358.40" x2="1867.16" y2="361.44" stroke="#000" stroke-width="0.91"/>
<line x1="1596.50" y1="358.40" x2="1596.50" y2="363.72" stroke="#000" stroke-width="1.22"/>
<text x="1567.95" y="387.9" font-size="24.3">10</text>
<text x="1599.85" y="378.7" font-size="17.01">−4</text>
<line x1="1735.00" y1="358.40" x2="1735.00" y2="363.72" stroke="#000" stroke-width="1.22"/>
<text x="1706.45" y="387.9" font-size="24.3">10</text>
<text x="1738.35" y="378.7" font-size="17.01">−3</text>
<line x1="1873.50" y1="358.40" x2="1873.50" y2="363.72" stroke="#000" stroke-width="1.22"/>
<text x="1844.95" y="387.9" font-size="24.3">10</text>
<text x="1876.85" y="378.7" font-size="17.01">−2</text>
<polyline points="1653.00,275.80 1694.10,247.60 1712.90,233.30 1721.60,224.00 1726.60,217.40 1736.20,213.09 1738.09,210.11 1739.99,206.89 1741.88,203.66 1743.78,200.43 1745.67,197.33 1747.57,195.41 1749.33,193.63 1751.02,191.92 1752.72,190.21 1754.41,188.49 1756.11,185.89 1757.80,183.03 1759.49,180.16 1761.16,177.35 1762.68,174.78 1764.20,172.20 1765.72,170.59 1767.24,169.22 1768.77,167.84 1770.29,166.46 1771.60,164.17 1772.60,161.89 1773.60,159.60 1774.60,157.08 1775.60,154.00" fill="none" stroke="#da2d2d" stroke-width="2.28" stroke-dasharray="8.44 3.65"/>
<circle cx="1653.00" cy="275.80" r="4.56" fill="#da2d2d" stroke="#da2d2d" stroke-width="1.52"/>
<circle cx="1694.10" cy="247.60" r="4.56" fill="#da2d2d" stroke="#da2d2d" stroke-width="1.52"/>
<circle cx="1712.90" cy="233.30" r="4.56" fill="#da2d2d" stroke="#da2d2d" stroke-width="1.52"/>
<circle cx="1721.60" cy="224.00" r="4.56" fill="#da2d2d" stroke="#da2d2d" stroke-width="1.52"/>
<circle cx="1726.60" cy="217.40" r="4.56" fill="#da2d2d" stroke="#da2d2d" stroke-width="1.52"/>
<circle cx="1736.20" cy="213.09" r="4.56" fill="#da2d2d" stroke="#da2d2d" stroke-width="1.52"/>
<circle cx="1738.09" cy="210.11" r="4.56" fill="#da2d2d" stroke="#da2d2d" stroke-width="1.52"/>
<circle cx="1739.99" cy="206.89" r="4.56" fill="#da2d2d" stroke="#da2d2d" stroke-width="1.52"/>
<circle cx="1741.88" cy="203.66" r="4.56" fill="#da2d2d" stroke="#da2d2d" stroke-width="1.52"/>
<circle cx="1743.78" cy="200.43" r="4.56" fill="#da2d2d" stroke="#da2d2d" stroke-width="1.52"/>
<circle cx="1745.67" cy="197.33" r="4.56" fill="#da2d2d" stroke="#da2d2d" stroke-width="1.52"/>
<circle cx="1747.57" cy="195.41" r="4.56" fill="#da2d2d" stroke="#da2d2d" stroke-width="1.52"/>
<circle cx="1749.33" cy="193.63" r="4.56" fill="#da2d2d" stroke="#da2d2d" stroke-width="1.52"/>
<circle cx="1751.02" cy="191.92" r="4.56" fill="#da2d2d" stroke="#da2d2d" stroke-width="1.52"/>
<circle cx="1752.72" cy="190.21" r="4.56" fill="#da2d2d" stroke="#da2d2d" stroke-width="1.52"/>
<circle cx="1754.41" cy="188.49" r="4.56" fill="#da2d2d" stroke="#da2d2d" stroke-width="1.52"/>
<circle cx="1756.11" cy="185.89" r="4.56" fill="#da2d2d" stroke="#da2d2d" stroke-width="1.52"/>
<circle cx="1757.80" cy="183.03" r="4.56" fill="#da2d2d" stroke="#da2d2d" stroke-width="1.52"/>
<circle cx="1759.49" cy="180.16" r="4.56" fill="#da2d2d" stroke="#da2d2d" stroke-width="1.52"/>
<circle cx="1761.16" cy="177.35" r="4.56" fill="#da2d2d" stroke="#da2d2d" stroke-width="1.52"/>
<circle cx="1762.68" cy="174.78" r="4.56" fill="#da2d2d" stroke="#da2d2d" stroke-width="1.52"/>
<circle cx="1764.20" cy="172.20" r="4.56" fill="#da2d2d" stroke="#da2d2d" stroke-width="1.52"/>
<circle cx="1765.72" cy="170.59" r="4.56" fill="#da2d2d" stroke="#da2d2d" stroke-width="1.52"/>
<circle cx="1767.24" cy="169.22" r="4.56" fill="#da2d2d" stroke="#da2d2d" stroke-width="1.52"/>
<circle cx="1768.77" cy="167.84" r="4.56" fill="#da2d2d" stroke="#da2d2d" stroke-width="1.52"/>
<circle cx="1770.29" cy="166.46" r="4.56" fill="#da2d2d" stroke="#da2d2d" stroke-width="1.52"/>
<circle cx="1771.60" cy="164.17" r="4.56" fill="#da2d2d" stroke="#da2d2d" stroke-width="1.52"/>
<circle cx="1772.60" cy="161.89" r="4.56" fill="#da2d2d" stroke="#da2d2d" stroke-width="1.52"/>
<circle cx="1773.60" cy="159.60" r="4.56" fill="#da2d2d" stroke="#da2d2d" stroke-width="1.52"/>
<circle cx="1774.60" cy="157.08" r="4.56" fill="#da2d2d" stroke="#da2d2d" stroke-width="1.52"/>
<circle cx="1775.60" cy="154.00" r="4.56" fill="#da2d2d" stroke="#da2d2d" stroke-width="1.52"/>
<line x1="1735.00" y1="358.40" x2="1735.00" y2="95.85" stroke="#808080" stroke-width="2.28" stroke-dasharray="8.44 3.65"/>
<polyline points="1653.00,109.80 1694.10,123.80 1712.90,134.10 1721.60,140.20 1726.60,144.00 1736.20,152.80 1738.09,154.87 1739.99,156.94 1741.88,159.00 1743.78,161.07 1745.67,163.14 1747.57,165.21 1749.33,167.28 1751.02,169.34 1752.72,171.41 1754.41,173.48 1756.11,175.55 1757.80,177.62 1759.49,179.68 1761.16,181.75 1762.68,183.82 1764.20,185.89 1765.72,187.96 1767.24,190.02 1768.77,192.09 1770.29,194.16 1771.60,196.23 1772.60,198.30 1773.60,200.36 1774.60,202.43 1775.60,204.50" fill="none" stroke="#2a72b4" stroke-width="2.28" stroke-dasharray="8.44 3.65"/>
<path d="M1648.44 105.24l9.12 9.12M1648.44 114.36l9.12 -9.12M1689.54 119.24l9.12 9.12M1689.54 128.36l9.12 -9.12M1708.34 129.54l9.12 9.12M1708.34 138.66l9.12 -9.12M1717.04 135.64l9.12 9.12M1717.04 144.76l9.12 -9.12M1722.04 139.44l9.12 9.12M1722.04 148.56l9.12 -9.12" stroke="#2a72b4" stroke-width="1.45" fill="none"/>
<path d="M1731.64 148.24l9.12 9.12M1731.64 157.36l9.12 -9.12M1733.53 150.31l9.12 9.12M1733.53 159.43l9.12 -9.12M1735.43 152.38l9.12 9.12M1735.43 161.50l9.12 -9.12M1737.32 154.44l9.12 9.12M1737.32 163.56l9.12 -9.12M1739.22 156.51l9.12 9.12M1739.22 165.63l9.12 -9.12M1741.11 158.58l9.12 9.12M1741.11 167.70l9.12 -9.12M1743.01 160.65l9.12 9.12M1743.01 169.77l9.12 -9.12M1744.77 162.72l9.12 9.12M1744.77 171.84l9.12 -9.12M1746.46 164.78l9.12 9.12M1746.46 173.90l9.12 -9.12M1748.16 166.85l9.12 9.12M1748.16 175.97l9.12 -9.12M1749.85 168.92l9.12 9.12M1749.85 178.04l9.12 -9.12M1751.55 170.99l9.12 9.12M1751.55 180.11l9.12 -9.12M1753.24 173.06l9.12 9.12M1753.24 182.18l9.12 -9.12M1754.93 175.12l9.12 9.12M1754.93 184.24l9.12 -9.12M1756.60 177.19l9.12 9.12M1756.60 186.31l9.12 -9.12M1758.12 179.26l9.12 9.12M1758.12 188.38l9.12 -9.12M1759.64 181.33l9.12 9.12M1759.64 190.45l9.12 -9.12M1761.16 183.40l9.12 9.12M1761.16 192.52l9.12 -9.12M1762.68 185.46l9.12 9.12M1762.68 194.58l9.12 -9.12M1764.21 187.53l9.12 9.12M1764.21 196.65l9.12 -9.12M1765.73 189.60l9.12 9.12M1765.73 198.72l9.12 -9.12M1767.04 191.67l9.12 9.12M1767.04 200.79l9.12 -9.12M1768.04 193.74l9.12 9.12M1768.04 202.86l9.12 -9.12M1769.04 195.80l9.12 9.12M1769.04 204.92l9.12 -9.12M1770.04 197.87l9.12 9.12M1770.04 206.99l9.12 -9.12M1771.04 199.94l9.12 9.12M1771.04 209.06l9.12 -9.12" stroke="#2a72b4" stroke-width="1.25" fill="none"/>
<rect x="1596.50" y="95.85" width="277.00" height="262.55" fill="none" stroke="#000" stroke-width="1.22"/>
</svg>
</body></html>
